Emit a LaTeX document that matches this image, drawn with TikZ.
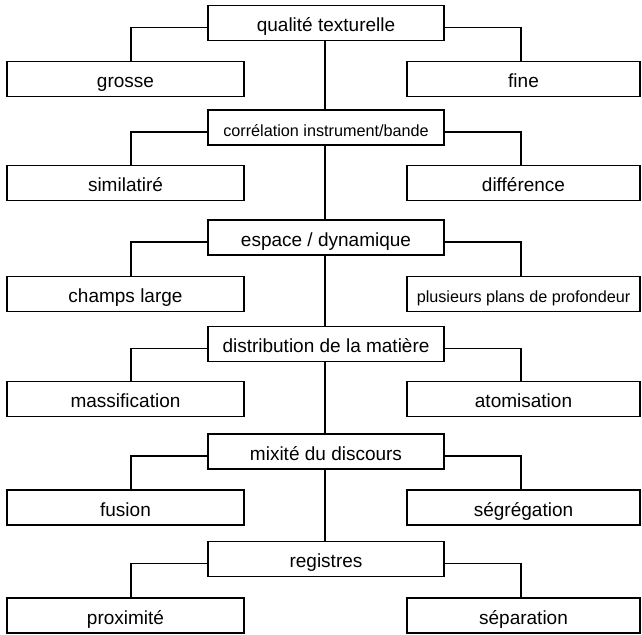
\documentclass[tikz,border=0pt]{standalone}
\usepackage{fontspec}
\setmainfont{Liberation Sans}
\begin{document}
\begin{tikzpicture}[x=1pt,y=-1pt,
  box/.style={draw, line width=1.4pt, fill=white, inner sep=0pt,
    minimum height=35pt, text height=26pt, text depth=9pt,
    font=\fontsize{19}{22}\selectfont},
  cbox/.style={box, minimum width=236pt},
  lbox/.style={box, minimum width=237pt},
  rbox/.style={box, minimum width=233pt},
  small/.style={font=\fontsize{16.2}{19}\selectfont},
  link/.style={line width=1.4pt}]
\useasboundingbox (0,0) rectangle (642,634);
% rows
\node[cbox] (c1) at (326,23) {qualité texturelle};
\node[lbox] (l1) at (125.5,79.2) {grosse};
\node[rbox] (r1) at (523.5,79.2) {fine};
\node[cbox,small] (c2) at (326,127.5) {corrélation instrument/bande};
\node[lbox] (l2) at (125.5,183.2) {similatiré};
\node[rbox] (r2) at (523.5,183.2) {différence};
\node[cbox] (c3) at (326,237.5) {espace / dynamique};
\node[lbox] (l3) at (125.5,294.2) {champs large};
\node[rbox,small] (r3) at (523.5,294.2) {plusieurs plans de profondeur};
\node[cbox] (c4) at (326,343.7) {distribution de la matière};
\node[lbox] (l4) at (125.5,399.2) {massification};
\node[rbox] (r4) at (523.5,399.2) {atomisation};
\node[cbox] (c5) at (326,451.5) {mixité du discours};
\node[lbox] (l5) at (125.5,507.5) {fusion};
\node[rbox] (r5) at (523.5,507.5) {ségrégation};
\node[cbox] (c6) at (326,559.2) {registres};
\node[lbox] (l6) at (125.5,615.5) {proximité};
\node[rbox] (r6) at (523.5,615.5) {séparation};
% trunk
\foreach \a/\b in {c1/c2,c2/c3,c3/c4,c4/c5,c5/c6}
  \draw[link] ([xshift=-1pt]\a.south) -- ([xshift=-1pt]\b.north);
% branches
\foreach \i in {1,...,6}{
  \draw[link] ([yshift=-4.5pt]c\i.west) -| ([xshift=5.5pt]l\i.north);
  \draw[link] ([yshift=-4.5pt]c\i.east) -| ([xshift=-2.5pt]r\i.north);
}
\end{tikzpicture}
\end{document}
